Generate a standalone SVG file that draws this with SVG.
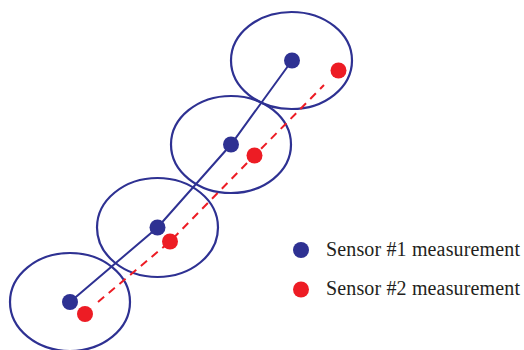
<svg xmlns="http://www.w3.org/2000/svg" width="524" height="350" viewBox="0 0 524 350">
<style>
.zone{fill:none;stroke:#2E3192;stroke-width:2.2}
.s1{fill:#2E3192}
.s2{fill:#ED1C24}
.l1{fill:none;stroke:#2E3192;stroke-width:2}
.l2{fill:none;stroke:#ED1C24;stroke-width:2;stroke-dasharray:8 6}
.lbl{font-family:"Liberation Serif","Times New Roman",serif;font-size:20px;fill:#231F20}
</style>
<rect width="524" height="350" fill="#fff"/>
<g id="zones">
<ellipse class="zone" cx="70" cy="302" rx="60" ry="49"/>
<ellipse class="zone" cx="157.5" cy="227.5" rx="60.5" ry="49.5"/>
<ellipse class="zone" cx="231" cy="144.5" rx="60" ry="48.5"/>
<ellipse class="zone" cx="291.5" cy="60.5" rx="60.5" ry="48.5"/>
</g>
<g id="connectors">
<polyline class="l1" points="70,302 157.5,227.5 231,144.5 292,60.5"/>
<polyline class="l2" points="98,302 170,241.5 254.5,155.5 324,85"/>
</g>
<g id="sensor1">
<circle class="s1" cx="70" cy="302" r="8"/>
<circle class="s1" cx="157.5" cy="227.5" r="8"/>
<circle class="s1" cx="231" cy="144.5" r="8"/>
<circle class="s1" cx="292" cy="60.5" r="8"/>
</g>
<g id="sensor2">
<circle class="s2" cx="85" cy="314" r="8"/>
<circle class="s2" cx="170" cy="241.5" r="8"/>
<circle class="s2" cx="254.5" cy="155.5" r="8"/>
<circle class="s2" cx="338.5" cy="70.5" r="8"/>
</g>
<g id="legend">
<circle class="s1" cx="301" cy="250" r="8"/>
<text class="lbl" x="326" y="256" textLength="194" lengthAdjust="spacing">Sensor #1 measurement</text>
<circle class="s2" cx="301" cy="289.5" r="8"/>
<text class="lbl" x="326" y="295" textLength="194" lengthAdjust="spacing">Sensor #2 measurement</text>
</g>
</svg>
